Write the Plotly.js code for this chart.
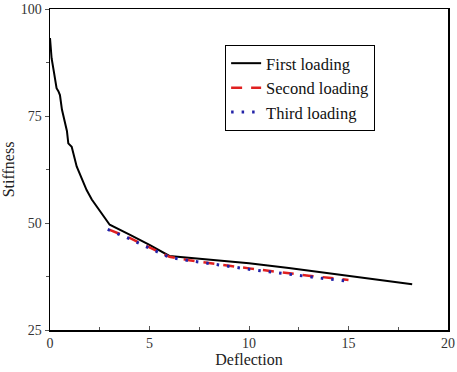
<!DOCTYPE html>
<html><head><meta charset="utf-8">
<script src="https://cdn.plot.ly/plotly-3.0.1.min.js"></script>
<style>body{margin:0;background:#fff}#c{width:457px;height:372px}</style>
</head><body><div id="c"></div>
<script>
const firstX = [0, 0.08, 0.2, 0.33, 0.42, 0.5, 0.6, 0.75, 0.85, 0.92, 1.09, 1.34, 1.6, 1.84, 2.1, 2.5, 3.0, 4.0, 5.0, 6.0, 8.0, 10.0, 12.0, 14.0, 16.0, 18.2];
const firstY = [93.2, 88.5, 85.2, 81.5, 80.8, 79.9, 76.5, 73.3, 71.5, 68.6, 67.8, 63.2, 60.2, 57.7, 55.5, 53.0, 49.6, 47.3, 44.9, 42.3, 41.5, 40.6, 39.5, 38.3, 37.1, 35.7];
const secondX = [3.0, 4, 5, 6, 7, 8, 9, 10, 11, 12, 13, 14, 15];
const secondY = [48.4, 46.5, 44.3, 42.1, 41.3, 40.6, 40.0, 39.4, 38.8, 38.2, 37.7, 37.2, 36.7];
const thirdX = [2.9, 4, 5, 6, 7, 8, 9, 10, 11, 12, 13, 14, 15];
const thirdY = [48.5, 46.3, 44.1, 42.0, 41.2, 40.5, 39.8, 39.2, 38.6, 38.0, 37.4, 36.9, 36.4];
const names = ['First loading', 'Second loading', 'Third loading'];

const font = 'Liberation Serif, Times New Roman, serif';
const data = [
  {x: firstX, y: firstY, name: names[0], mode: 'lines', line: {color: '#000', width: 2}},
  {x: secondX, y: secondY, name: names[1], mode: 'lines', line: {color: '#e02020', width: 2.5, dash: '11px,9px'}},
  {x: thirdX, y: thirdY, name: names[2], mode: 'lines', line: {color: '#2222a8', width: 3, dash: '2.5px,8px'}}
];
const axisCommon = {
  showline: true, mirror: true, linecolor: '#000', linewidth: 1.5,
  showgrid: false, zeroline: false, tickcolor: '#555', ticklen: 4,
  tickfont: {family: font, size: 14, color: '#333'}
};
const layout = {
  width: 457, height: 372,
  margin: {l: 50, r: 9, t: 9, b: 42},
  paper_bgcolor: '#fff', plot_bgcolor: '#fff',
  showlegend: true,
  legend: {x: 0.44, y: 0.888, xanchor: 'left', yanchor: 'top', bordercolor: '#000', borderwidth: 1,
    font: {family: font, size: 16.5, color: '#111'}, bgcolor: '#fff', tracegroupgap: 0},
  xaxis: Object.assign({}, axisCommon, {range: [0, 20], dtick: 5, ticks: 'inside',
    minor: {dtick: 2.5, ticks: 'inside', ticklen: 3, tickcolor: '#555'},
    title: {text: 'Deflection', font: {family: font, size: 16, color: '#222'}, standoff: 2}}),
  yaxis: Object.assign({}, axisCommon, {range: [25, 100], dtick: 25, ticks: 'outside',
    minor: {dtick: 12.5, ticks: 'outside', ticklen: 3, tickcolor: '#555'},
    title: {text: 'Stiffness', font: {family: font, size: 16, color: '#222'}, standoff: 4}})
};
Plotly.newPlot('c', data, layout, {displayModeBar: false, staticPlot: true});
</script></body></html>
